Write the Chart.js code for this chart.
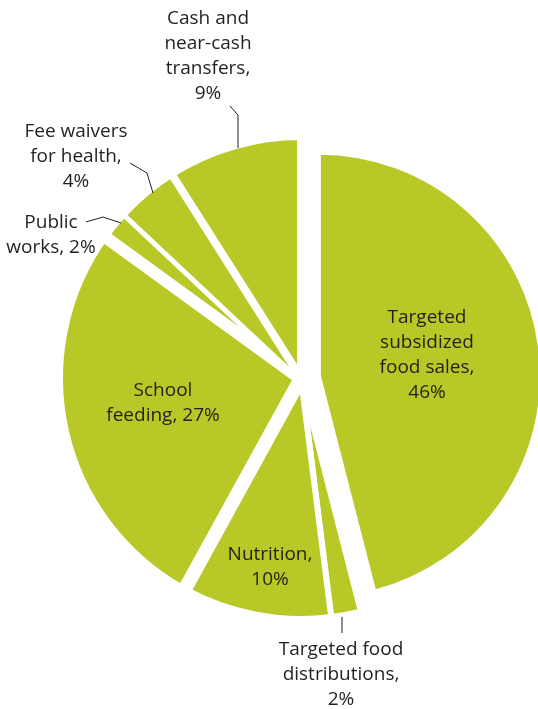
<!DOCTYPE html>
<html>
<head>
<meta charset="utf-8">
<script src="https://cdn.jsdelivr.net/npm/chart.js@4"></script>
<style>
  html, body { margin: 0; padding: 0; background: #fff; overflow: hidden; }
  #wrap { width: 538px; height: 709px; }
</style>
</head>
<body>
<div id="wrap"><canvas id="pie" width="538" height="709"></canvas></div>
<script>
// clockwise from 12 o'clock
const categories = [
    ['Targeted', 'subsidized', 'food sales,'],
    ['Targeted food', 'distributions,'],
    ['Nutrition,'],
    ['School', 'feeding,'],
    ['Public', 'works,'],
    ['Fee waivers', 'for health,'],
    ['Cash and', 'near-cash', 'transfers,']
];
const shares = [46, 2, 10, 27, 2, 4, 9];

// look
const sliceColor = '#b8c826';
const textColor = '#231f20';
const gapWidths = [4, 6, 6, 14, 10, 0, 8];   // white border per slice
const pieRadius = 238;
const bigRadius = 221;      // the pulled-out slice is a bit smaller
const pullOut = 18;
const fontCss = '19px "Open Sans", sans-serif';
const lineH = 25;

// where the labels go: x centre, first baseline, percent on same line?
const labelPos = [
    { x: 427, y: 323, inline: false },
    { x: 341, y: 655, inline: false },
    { x: 270, y: 560, inline: false },
    { x: 163, y: 396, inline: true },
    { x: 51,  y: 228, inline: true },
    { x: 76,  y: 137, inline: false },
    { x: 208, y: 24,  inline: false }
];
const leaders = [
    null,
    [[342, 617], [342, 633]],
    null,
    null,
    [[86, 222], [103, 217], [121, 223]],
    [[130, 163], [147, 173], [153, 193]],
    [[230, 106], [238, 115], [238, 148]]
];

const sliceLayout = {
    id: 'sliceLayout',
    afterDatasetsUpdate(chart) {
        const arcs = chart.getDatasetMeta(0).data;
        arcs.forEach((arc, i) => {
            arc.outerRadius = pieRadius + gapWidths[i] / 2;
        });
        const big = arcs[0];
        const mid = (big.startAngle + big.endAngle) / 2;
        big.x += Math.cos(mid) * pullOut;
        big.y += Math.sin(mid) * pullOut;
        big.outerRadius = bigRadius + gapWidths[0] / 2;
    }
};

const sliceLabels = {
    id: 'sliceLabels',
    afterDatasetsDraw(chart) {
        const ctx = chart.ctx;
        ctx.save();
        ctx.strokeStyle = textColor;
        ctx.lineWidth = 1;
        leaders.forEach(pts => {
            if (!pts) return;
            ctx.beginPath();
            pts.forEach((p, k) => k ? ctx.lineTo(p[0], p[1]) : ctx.moveTo(p[0], p[1]));
            ctx.stroke();
        });
        ctx.fillStyle = textColor;
        ctx.font = fontCss;
        ctx.textAlign = 'center';
        ctx.textBaseline = 'alphabetic';
        categories.forEach((lines, i) => {
            const pos = labelPos[i];
            const txt = lines.slice();
            const pct = shares[i] + '%';
            if (pos.inline) txt[txt.length - 1] += ' ' + pct;
            else txt.push(pct);
            txt.forEach((t, k) => ctx.fillText(t, pos.x, pos.y + k * lineH));
        });
        ctx.restore();
    }
};

new Chart(document.getElementById('pie'), {
    type: 'pie',
    data: {
        labels: categories.map(c => c.join(' ')),
        datasets: [{
            data: shares,
            backgroundColor: sliceColor,
            borderColor: '#ffffff',
            borderWidth: gapWidths,
            radius: pieRadius,
            clip: false
        }]
    },
    options: {
        responsive: false,
        animation: false,
        events: [],
        layout: { padding: { left: 64, right: 0, top: 47, bottom: 0 } },
        plugins: {
            legend: { display: false },
            tooltip: { enabled: false }
        }
    },
    plugins: [sliceLayout, sliceLabels]
});
</script>
</body>
</html>
